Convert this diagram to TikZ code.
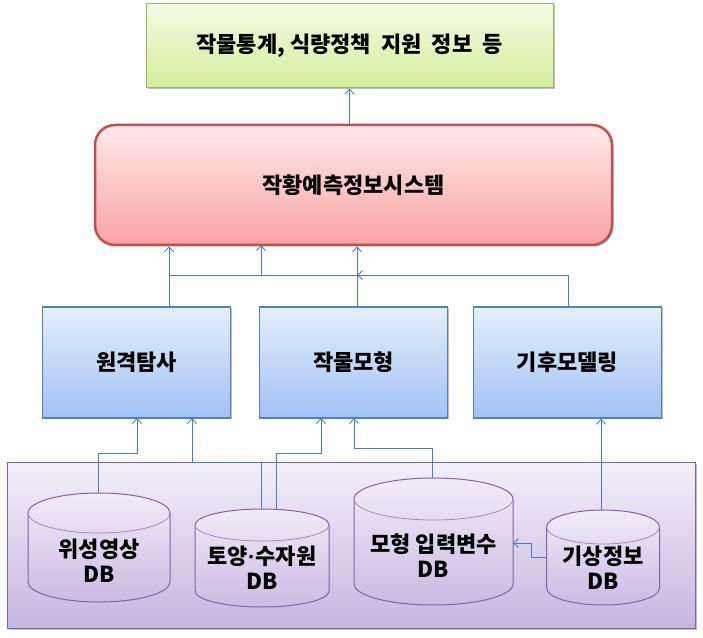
\documentclass[tikz,border=0pt]{standalone}
\usepackage{fontspec}
\setmainfont{Noto Sans CJK KR}
\newfontfamily\dotfont{Liberation Sans}
\usetikzlibrary{shadows,arrows.meta,calc}
\definecolor{conn}{HTML}{4A7EBB}
\definecolor{gTop}{HTML}{F3FAE4}
\definecolor{gBot}{HTML}{D3EE9C}
\definecolor{gLine}{HTML}{9BBB59}
\definecolor{rTop}{HTML}{FFEAEA}
\definecolor{rBot}{HTML}{F9A3A3}
\definecolor{rLine}{HTML}{C0504D}
\definecolor{bTop}{HTML}{E5EEFC}
\definecolor{bBot}{HTML}{A2C1F5}
\definecolor{bLine}{HTML}{4F81BD}
\definecolor{pTop}{HTML}{F3EFFA}
\definecolor{pBot}{HTML}{C7B5E0}
\definecolor{pLine}{HTML}{8064A2}
\definecolor{cTop}{HTML}{F1ECF8}
\definecolor{cBot}{HTML}{CBBAE3}
\newcommand\dbcyl[5]{%
  \path[cylfill] (#1-#4,#2-#5) -- (#1-#4,#3+#5)
    arc[start angle=180,end angle=360,x radius=#4pt,y radius=#5pt]
    -- (#1+#4,#2-#5)
    arc[start angle=0,end angle=180,x radius=#4pt,y radius=#5pt] -- cycle;
  \draw[cylline,line width=0.7pt] (#1-#4,#2-#5)
    arc[start angle=180,end angle=360,x radius=#4pt,y radius=#5pt];
}
\newcommand\kdot{{\dotfont\bfseries ·}}
\begin{document}
\begin{tikzpicture}[x=1pt,y=1pt,
  font=\fontsize{22}{25}\selectfont\bfseries,
  shad/.style={drop shadow={shadow xshift=1.5pt,shadow yshift=-1.5pt,opacity=0.25,fill=black}},
  greenbox/.style={shad,draw=gLine,line width=1pt,top color=gTop,bottom color=gBot,
    minimum width=407pt,minimum height=84pt,inner sep=0pt},
  redbox/.style={shad,draw=rLine,line width=2.5pt,top color=rTop,bottom color=rBot,
    rounded corners=20pt,minimum width=517pt,minimum height=120pt,inner sep=0pt},
  bluebox/.style={shad,draw=bLine,line width=1.2pt,top color=bTop,bottom color=bBot,
    minimum width=188pt,minimum height=111pt,inner sep=0pt},
  purplebox/.style={shad,draw=pLine,line width=1pt,top color=pTop,bottom color=pBot,
    minimum width=688pt,minimum height=165pt,inner sep=0pt},
  cylfill/.style={draw=pLine,line width=1pt,top color=cTop,bottom color=cBot},
  cylline/.style={draw=pLine!80},
  dbtext/.style={align=center,inner sep=0pt},
  link/.style={draw=conn,line width=0.9pt},
  arr/.style={link,-{Straight Barb[length=5pt,width=9pt]}}
]
\useasboundingbox (0,0) rectangle (703,637);

% top boxes
\node[greenbox] (out) at (349.5,591) {작물통계,\ 식량정책\ \ 지원\ \ 정보\ \ 등};
\node[redbox] (sys) at (353.5,452) {작황예측정보시스템};

% middle boxes
\node[bluebox] (rs) at (136.5,274.5) {원격탐사};
\node[bluebox] (cm) at (353.5,274.5) {작물모형};
\node[bluebox] (cl) at (567.5,274.5) {기후모델링};

% DB area
\node[purplebox] (dbarea) at (351,91.5) {};
\dbcyl{99}{144}{35}{71}{20}
\dbcyl{262}{128}{30}{67}{16}
\dbcyl{433.5}{159}{32}{79.5}{21}
\dbcyl{603}{127}{32}{56.5}{17}
\node[dbtext] (sat) at (99,76) {위성영상\\DB};
\node[dbtext] (soil) at (262,69) {토양\kdot 수자원\\DB};
\node[dbtext] (par) at (433.5,81) {모형 입력변수\\DB};
\node[dbtext] (wx) at (603,69) {기상정보\\DB};

% connection points
\coordinate (rsUp) at ($(rs.north)+(32.5,0)$);
\coordinate (cmUp) at ($(cm.north)+(3.5,0)$);
\coordinate (clUp) at ($(cl.north)+(0.5,0)$);
\coordinate (bus) at (0,362);
\coordinate (satTop) at (98,144);
\coordinate (soilTopA) at (261,128);
\coordinate (soilTopB) at (276,127);
\coordinate (parTop) at (432,159);
\coordinate (wxTop) at (601,127);
\coordinate (wxLeft) at (546.5,80);
\coordinate (parRight) at (513,94);

% upper connectors
\draw[arr] (out.south |- sys.north) -- (out.south);
\draw[arr] (rsUp) -- (rsUp |- sys.south);
\draw[link] (rsUp |- bus) -- (cmUp |- bus);
\draw[arr] (261,362) -- (261,392);
\draw[arr] (cmUp) -- (cmUp |- sys.south);
\draw[arr] (clUp) |- (cmUp |- bus);

% lower connectors
\draw[arr] (satTop) |- (137,184) -- (137,219);
\draw[arr] (soilTopA) |- (192,175) -- (192,219);
\draw[arr] (soilTopB) |- (321,184) -- (321,219);
\draw[arr] (parTop) |- (354,189) -- (354,219);
\draw[arr] (wxTop) -- (wxTop |- cl.south);
\draw[arr] (wxLeft) -- (531,80) |- (parRight);
\end{tikzpicture}
\end{document}
